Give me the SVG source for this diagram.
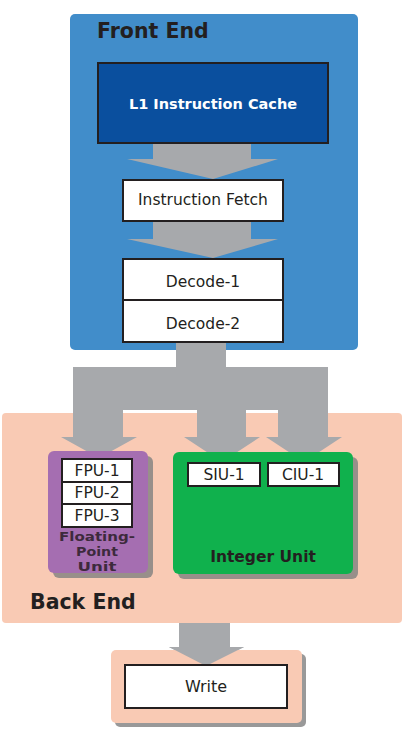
<svg xmlns="http://www.w3.org/2000/svg" width="406" height="735" viewBox="0 0 406 735">
<style>
.t{font-family:"DejaVu Sans","Liberation Sans",sans-serif;fill:#231F20;text-anchor:middle;font-size:15.5px}
.title{font-family:"DejaVu Sans","Liberation Sans",sans-serif;font-weight:bold;font-size:20.5px;fill:#231F20}
.box{fill:#FFFFFF;stroke:#231F20;stroke-width:2}
.arrow{fill:#A7A9AC}
.shadow{fill:#7F7F7F;opacity:0.8}
.fpl{font-family:"DejaVu Sans","Liberation Sans",sans-serif;font-weight:bold;font-size:12.5px;fill:#3D2A3C;text-anchor:middle}
</style>
<rect width="406" height="735" fill="#FFFFFF"/>
<g id="front-end">
<rect x="70" y="14" width="288" height="336" rx="5" fill="#418DCA"/>
<text class="title" x="97" y="38">Front End</text>
</g>
<g id="back-end">
<rect x="2" y="413" width="400" height="210" rx="4" fill="#F9CAB4"/>
<text class="title" x="30" y="609">Back End</text>
</g>
<g id="connectors">
<polygon class="arrow" points="153,143 251,143 251,159 278,159 213,179 127,159 153,159"/>
<polygon class="arrow" points="153,221 251,221 251,239 278,239 213,258 127,239 153,239"/>
<polygon class="arrow" points="176,342 226,342 226,367 328,367 328,437 342,437 304,462 266,437 278,437 278,410 246,410 246,437 260,437 222,462 184,437 197,437 197,410 123,410 123,437 137,437 99,458 61,437 73,437 73,367 176,367"/>
<polygon class="arrow" points="179,623 230,623 230,647 244,647 206,666 169,647 179,647"/>
</g>
<g id="l1-instruction-cache">
<rect x="98" y="63" width="230" height="80" fill="#0A4F9E" stroke="#231F20" stroke-width="2"/>
<text class="t" x="213" y="109" font-weight="bold" style="fill:#FFFFFF;font-size:14.5px">L1 Instruction Cache</text>
</g>
<g id="instruction-fetch">
<rect class="box" x="123" y="180" width="160" height="41"/>
<text class="t" x="203" y="205">Instruction Fetch</text>
</g>
<g id="decode-1">
<rect class="box" x="123" y="259" width="160" height="41"/>
<text class="t" x="203" y="287">Decode-1</text>
</g>
<g id="decode-2">
<rect class="box" x="123" y="300" width="160" height="42"/>
<text class="t" x="203" y="329">Decode-2</text>
</g>
<g id="floating-point-unit">
<rect class="shadow" x="53" y="456" width="100" height="122" rx="6"/>
<rect x="48" y="451" width="100" height="122" rx="6" fill="#A56EB1"/>
<text class="fpl" x="97" y="541" textLength="76" lengthAdjust="spacingAndGlyphs">Floating-</text>
<text class="fpl" x="97" y="556" textLength="42" lengthAdjust="spacingAndGlyphs">Point</text>
<text class="fpl" x="97" y="571" textLength="39" lengthAdjust="spacingAndGlyphs">Unit</text>
</g>
<g id="fpu-1">
<rect class="box" x="62" y="459" width="70" height="23"/>
<text class="t" x="97" y="476">FPU-1</text>
</g>
<g id="fpu-2">
<rect class="box" x="62" y="482" width="70" height="22"/>
<text class="t" x="97" y="498">FPU-2</text>
</g>
<g id="fpu-3">
<rect class="box" x="62" y="504" width="70" height="23"/>
<text class="t" x="97" y="521">FPU-3</text>
</g>
<g id="integer-unit">
<rect class="shadow" x="178" y="457" width="180" height="122" rx="6"/>
<rect x="173" y="452" width="180" height="122" rx="6" fill="#10B14D"/>
<text class="t" x="263" y="562" font-weight="bold">Integer Unit</text>
</g>
<g id="siu-1">
<rect class="box" x="188" y="463" width="72" height="23"/>
<text class="t" x="224" y="480">SIU-1</text>
</g>
<g id="ciu-1">
<rect class="box" x="268" y="463" width="71" height="23"/>
<text class="t" x="303" y="480">CIU-1</text>
</g>
<g id="write">
<rect class="shadow" x="115" y="654" width="191" height="73" rx="5"/>
<rect x="111" y="650" width="191" height="73" rx="5" fill="#F9CAB4"/>
<polygon class="arrow" points="179,647 230,647 244,647 206,666 169,647"/>
<rect class="box" x="125" y="665" width="162" height="43"/>
<text class="t" x="206" y="692" style="font-size:16px">Write</text>
</g>
</svg>
